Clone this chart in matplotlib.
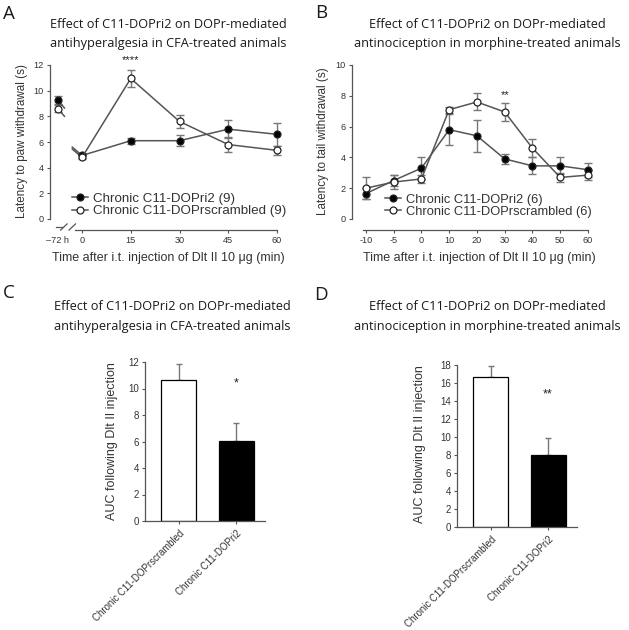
import matplotlib
matplotlib.use("Agg")
import matplotlib.pyplot as plt
from matplotlib.transforms import blended_transform_factory, offset_copy
from matplotlib.lines import Line2D

plt.rcParams['font.family'] = ['Liberation Sans', 'DejaVu Sans']

# ---------------- Data ----------------
# Panel A (CFA, paw withdrawal)
a_times = [-7.4, 0, 15, 30, 45, 60]
a_ticklabels = ["\u201372 h", "0", "15", "30", "45", "60"]
a_ri2 = [9.25, 4.95, 6.1, 6.1, 7.0, 6.6]
a_ri2_err = [0.3, 0.2, 0.25, 0.45, 0.7, 0.9]
a_scr = [8.6, 4.8, 10.95, 7.6, 5.8, 5.35]
a_scr_err = [0.25, 0.15, 0.65, 0.5, 0.6, 0.35]

# Panel B (morphine, tail withdrawal)
b_times = ["-10", "-5", "0", "10", "20", "30", "40", "50", "60"]
b_ri2 = [1.65, 2.5, 3.3, 5.8, 5.4, 3.9, 3.45, 3.45, 3.2]
b_ri2_err = [0.35, 0.35, 0.7, 1.0, 1.05, 0.3, 0.55, 0.55, 0.45]
b_scr = [2.0, 2.4, 2.6, 7.1, 7.6, 6.95, 4.6, 2.7, 2.85]
b_scr_err = [0.7, 0.45, 0.25, 0.2, 0.55, 0.6, 0.6, 0.3, 0.3]

# Panels C and D (AUC)
bar_groups = ["Chronic C11-DOPrscrambled", "Chronic C11-DOPri2"]
c_auc = [10.65, 6.05]
c_auc_err = [1.2, 1.35]
d_auc = [16.7, 8.05]
d_auc_err = [1.2, 1.85]

leg_ri2_A = "Chronic C11-DOPri2 (9)"
leg_scr_A = "Chronic C11-DOPrscrambled (9)"
leg_ri2_B = "Chronic C11-DOPri2 (6)"
leg_scr_B = "Chronic C11-DOPrscrambled (6)"

W, H = 629, 630
fig = plt.figure(figsize=(W / 100, H / 100), dpi=100)


def box(l, r, t, b):
    return [l / W, 1 - b / H, (r - l) / W, (b - t) / H]


def ftext(x, y, s, **kw):
    fig.text(x / W, 1 - y / H, s, **kw)


LINE_C = "#555555"
ERR_C = "#777777"
TITLE_FONT = ['Open Sans', 'DejaVu Sans']
MS = 5.0


def series(ax, x, y, err, filled, start=0):
    xs = x[start:]
    ys = y[start:]
    ax.errorbar(x, y, yerr=err, fmt='none', ecolor=ERR_C, elinewidth=1.0,
                capsize=3, capthick=1.0, clip_on=False, zorder=2)
    ln, = ax.plot(xs, ys, color=LINE_C, lw=1.1,
                  marker='o', ms=MS, mec='#222222', mew=0.9,
                  mfc='black' if filled else 'white', clip_on=False, zorder=3)
    return ln


def style_line_axes(ax):
    for s in ['top', 'right']:
        ax.spines[s].set_visible(False)
    ax.spines['bottom'].set_position(('outward', 8))
    for s in ['left', 'bottom']:
        ax.spines[s].set_color('#555555')
        ax.spines[s].set_linewidth(0.9)
    ax.tick_params(axis='both', labelsize=6.6, length=2.5, width=0.8,
                   color='#555555', labelcolor='#333333', pad=2)


# ---------------- Panel A ----------------
axA = fig.add_axes(box(50, 277, 65, 219))
axA.set_xlim(-9.85, 60)
axA.set_ylim(0, 12)
style_line_axes(axA)
axA.set_yticks(range(0, 13, 2))
axA.set_xticks(a_times)
axA.set_xticklabels(a_ticklabels)
axA.xaxis.get_major_ticks()[0].tick1line.set_visible(False)
axA.spines['left'].set_bounds(0, 12)
axA.spines['bottom'].set_bounds(-2.3, 60)

lr = series(axA, a_times, a_ri2, a_ri2_err, True, start=1)
ls = series(axA, a_times, a_scr, a_scr_err, False, start=1)
axA.plot(a_times[:1], a_ri2[:1], ls='none', marker='o', ms=MS, mec='#222222',
         mfc='black', mew=0.9, zorder=4)
axA.plot(a_times[:1], a_scr[:1], ls='none', marker='o', ms=MS, mec='#222222',
         mfc='white', mew=0.9, zorder=4)
# broken-line stubs
for yv in (a_ri2[0], a_scr[0]):
    axA.plot([a_times[0], a_times[0] + 2.0], [yv, yv - 0.6], color=LINE_C, lw=1.1, zorder=2)
for yv in (a_ri2[1], a_scr[1]):
    axA.plot([a_times[1], a_times[1] - 3.0], [yv, yv + 0.65], color=LINE_C, lw=1.1, zorder=2)

# axis break on x axis
trA = offset_copy(blended_transform_factory(axA.transData, axA.transAxes), fig=fig, y=-8, units='dots')
axA.add_line(Line2D([-8.0, -6.0], [0, 0], transform=trA, color='#555555', lw=0.9, clip_on=False))
for xc in (-5.6, -3.0):
    axA.add_line(Line2D([xc - 1.0, xc + 1.0], [-0.02, 0.02], transform=trA,
                        color='#555555', lw=0.9, clip_on=False))

axA.text(15, 12.0, "****", ha='center', va='bottom', fontsize=8, color='#222222')
axA.legend([lr, ls], [leg_ri2_A, leg_scr_A], loc='upper left',
           bbox_to_anchor=(0.097, 0.17), frameon=False, fontsize=9.6,
           handlelength=1.2, handletextpad=0.4, labelspacing=0.0, borderpad=0,
           borderaxespad=0, labelcolor='#333333')

# ---------------- Panel B ----------------
axB = fig.add_axes(box(352, 588, 65, 219))
bx = list(range(len(b_times)))
axB.set_xlim(-0.5, 8)
axB.set_ylim(0, 10)
style_line_axes(axB)
axB.set_yticks(range(0, 11, 2))
axB.set_xticks(bx)
axB.set_xticklabels(b_times)
axB.spines['left'].set_bounds(0, 10)
axB.spines['bottom'].set_bounds(-0.12, 8)
lbr = series(axB, bx, b_ri2, b_ri2_err, True)
lbs = series(axB, bx, b_scr, b_scr_err, False)
axB.text(5, 7.75, "**", ha='center', va='bottom', fontsize=8, color='#222222')
axB.legend([lbr, lbs], [leg_ri2_B, leg_scr_B], loc='upper left',
           bbox_to_anchor=(0.14, 0.165), frameon=False, fontsize=9.3,
           handlelength=1.2, handletextpad=0.4, labelspacing=0.0, borderpad=0,
           borderaxespad=0, labelcolor='#333333')


# ---------------- Panels C, D ----------------
def bar_panel(ax, vals, errs, ymax, star, star_y):
    xs = [0, 1]
    ax.bar(xs, vals, width=0.61, color=['white', 'black'], edgecolor='black', lw=0.9, zorder=2)
    for x, v, e in zip(xs, vals, errs):
        ax.errorbar([x], [v], yerr=[[0], [e]], fmt='none', ecolor=ERR_C,
                    elinewidth=1.0, capsize=2.5, capthick=1.0, zorder=1)
    ax.set_xlim(-0.59, 1.505)
    ax.set_ylim(0, ymax)
    ax.set_yticks(range(0, ymax + 1, 2))
    ax.set_xticks(xs)
    ax.set_xticklabels(bar_groups, rotation=45, ha='right', rotation_mode='anchor')
    for s in ['top', 'right']:
        ax.spines[s].set_visible(False)
    for s in ['left', 'bottom']:
        ax.spines[s].set_color('#555555')
        ax.spines[s].set_linewidth(0.9)
    ax.tick_params(axis='y', labelsize=7, length=2.5, width=0.8, color='#555555',
                   labelcolor='#333333', pad=2)
    ax.tick_params(axis='x', labelsize=6.9, length=2.5, width=0.8, color='#555555',
                   labelcolor='#333333', pad=3)
    ax.text(1, star_y, star, ha='center', va='center', fontsize=9, color='#222222')


axC = fig.add_axes(box(145, 265, 362, 521))
bar_panel(axC, c_auc, c_auc_err, 12, "*", 10.4)
axD = fig.add_axes(box(457, 577, 365, 527))
bar_panel(axD, d_auc, d_auc_err, 18, "**", 14.7)

# ---------------- Text ----------------
tcol = '#1a1a1a'
title_A = ["Effect of C11-DOPri2 on DOPr-mediated", "antihyperalgesia in CFA-treated animals"]
title_B = ["Effect of C11-DOPri2 on DOPr-mediated", "antinociception in morphine-treated animals"]
for (cx, y1, y2, lines) in [(168, 24, 43, title_A), (487, 24, 43, title_B),
                            (172, 307, 326, title_A), (487, 307, 326, title_B)]:
    ftext(cx, y1, lines[0], ha='center', va='center', fontsize=9.2, family=TITLE_FONT, color=tcol)
    ftext(cx, y2, lines[1], ha='center', va='center', fontsize=9.2, family=TITLE_FONT, color=tcol)

for (x, y, s) in [(8.5, 14, "A"), (321, 13, "B"), (8.5, 293, "C"), (321, 295, "D")]:
    ftext(x, y, s, ha='center', va='center', fontsize=13.5, family=TITLE_FONT, color=tcol)

xl = "Time after i.t. injection of Dlt II 10 \u03bcg (min)"
ftext(168, 258, xl, ha='center', va='center', fontsize=9, color='#333333')
ftext(479, 258, xl, ha='center', va='center', fontsize=9, color='#333333')
ftext(22, 141, "Latency to paw withdrawal (s)", rotation=90, ha='center', va='center',
      fontsize=8.4, color='#333333')
ftext(323, 141, "Latency to tail withdrawal (s)", rotation=90, ha='center', va='center',
      fontsize=8.4, color='#333333')
ftext(112, 441, "AUC following Dlt II injection", rotation=90, ha='center', va='center',
      fontsize=9, color='#333333')
ftext(420, 444, "AUC following Dlt II injection", rotation=90, ha='center', va='center',
      fontsize=9, color='#333333')

fig.savefig("out.png", dpi=100, facecolor='white')
